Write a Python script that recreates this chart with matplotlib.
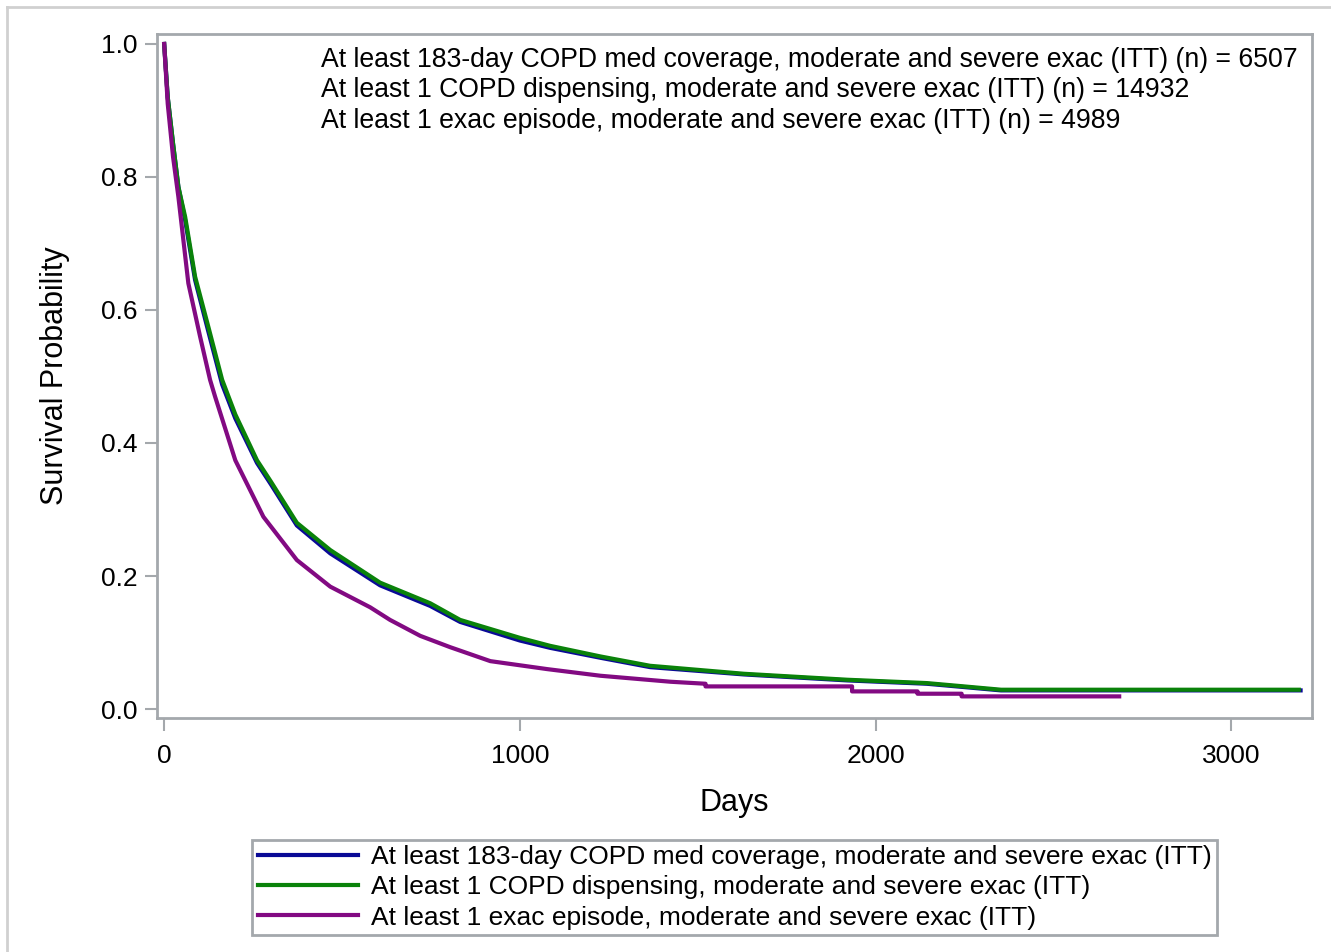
import numpy as np
import matplotlib.pyplot as plt
from matplotlib.lines import Line2D

plt.rcParams['font.family'] = ['Liberation Sans', 'DejaVu Sans']

# Kaplan-Meier style curves (days, survival probability)
days_cov = [0, 10, 25, 40, 59, 87, 124, 163, 200, 261, 300, 373, 467, 607, 748, 832,
            1000, 1085, 1227, 1366, 1630, 1921, 2144, 2249, 2353, 3195]
surv_cov = [1.0, 0.92, 0.85, 0.785, 0.735, 0.645, 0.568, 0.488, 0.437, 0.370, 0.338,
            0.276, 0.234, 0.186, 0.155, 0.131, 0.103, 0.092, 0.077, 0.063, 0.052, 0.043,
            0.038, 0.033, 0.028, 0.028]

days_disp = [0, 10, 25, 40, 59, 87, 124, 163, 200, 261, 300, 373, 467, 607, 748, 832,
             1000, 1085, 1227, 1366, 1630, 1921, 2144, 2249, 2353, 3190]
surv_disp = [1.0, 0.92, 0.85, 0.785, 0.74, 0.65, 0.575, 0.495, 0.443, 0.374, 0.342,
             0.280, 0.239, 0.190, 0.159, 0.134, 0.107, 0.095, 0.079, 0.065, 0.053, 0.044,
             0.039, 0.034, 0.029, 0.029]

days_epi = [0, 10, 25, 40, 68, 101, 129, 143, 200, 279, 373, 467, 579, 635, 720, 804,
            917, 1077, 1227, 1424, 1522, 1522, 1934, 1934, 2118, 2118, 2242, 2242, 2685]
surv_epi = [1.0, 0.91, 0.83, 0.77, 0.64, 0.56, 0.495, 0.47, 0.374, 0.289, 0.224, 0.184,
            0.153, 0.134, 0.110, 0.093, 0.072, 0.060, 0.050, 0.041, 0.038, 0.034, 0.034,
            0.0265, 0.0265, 0.023, 0.023, 0.019, 0.019]

labels = ["At least 183-day COPD med coverage, moderate and severe exac (ITT)",
          "At least 1 COPD dispensing, moderate and severe exac (ITT)",
          "At least 1 exac episode, moderate and severe exac (ITT)"]
n_counts = [6507, 14932, 4989]
colors = ['#0a0a96', '#0a820a', '#820a82']

gray = '#a4a8ac'

fig = plt.figure(figsize=(13.31, 9.52), dpi=100)
ax = fig.add_axes([0.118, 0.2458, 0.8677, 0.7185])

ax.plot(days_cov, surv_cov, color=colors[0], lw=3)
ax.plot(days_disp, surv_disp, color=colors[1], lw=3)
ax.plot(days_epi, surv_epi, color=colors[2], lw=3)

ax.set_xlim(-20, 3227)
ax.set_ylim(-0.0135, 1.015)
ax.set_xticks([0, 1000, 2000, 3000])
ax.set_yticks([0.0, 0.2, 0.4, 0.6, 0.8, 1.0])
ax.set_yticklabels(['0.0', '0.2', '0.4', '0.6', '0.8', '1.0'])
ax.tick_params(axis='both', direction='out', length=9, width=1.5, color=gray,
               labelsize=19, pad=5)
ax.tick_params(axis='x', pad=10)
for s in ax.spines.values():
    s.set_color(gray)
    s.set_linewidth(2)

ax.set_xlabel('Days', fontsize=22, labelpad=14)
ax.set_ylabel('Survival Probability', fontsize=22, labelpad=22)

for i, (lab, n) in enumerate(zip(labels, n_counts)):
    ax.text(0.142, 0.962 - i * 0.0445, f"{lab} (n) = {n}", transform=ax.transAxes,
            fontsize=19.2, va='center', ha='left')

handles = [Line2D([], [], color=c, lw=3) for c in colors]
leg = fig.legend(handles, labels, loc='center', bbox_to_anchor=(0.552, 0.068),
                 fontsize=19, handlelength=3.8, handletextpad=0.5, labelspacing=0.24,
                 borderpad=0.2, borderaxespad=0, fancybox=False, framealpha=1,
                 edgecolor=gray)
leg.get_frame().set_linewidth(2)

# outer border of the graph area
fig.add_artist(Line2D([7 / 1331, 1.0], [1 - 7 / 952, 1 - 7 / 952], color='#d0d0d0', lw=2,
                      transform=fig.transFigure))
fig.add_artist(Line2D([7 / 1331, 7 / 1331], [0.0, 1 - 7 / 952], color='#d0d0d0', lw=2,
                      transform=fig.transFigure))

fig.savefig('out.png', dpi=100)
